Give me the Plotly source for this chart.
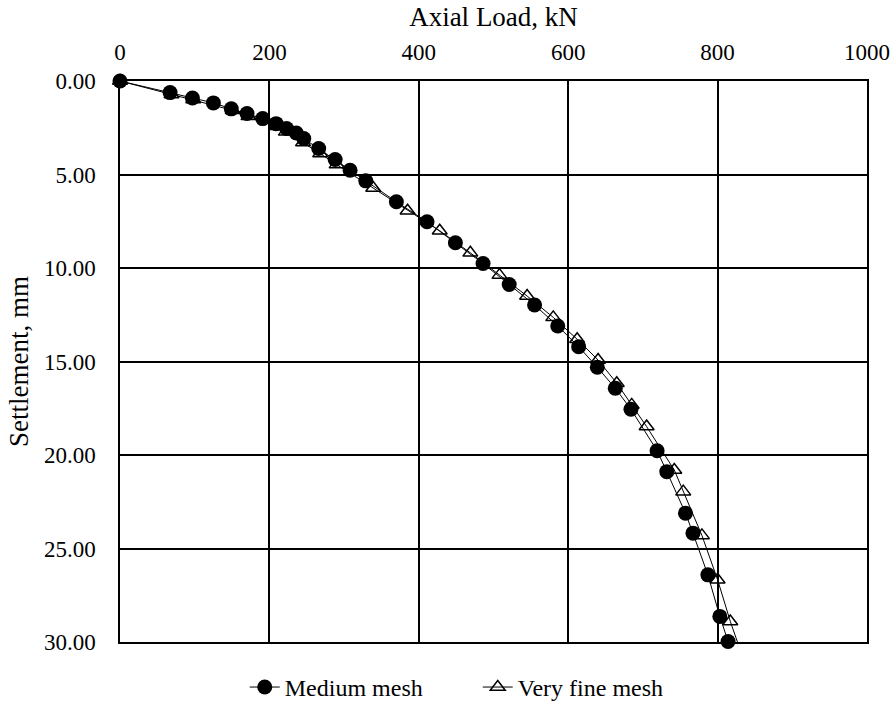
import plotly.graph_objects as go

medium_load = [0, 67, 97, 125, 149, 170, 191, 209, 223, 236, 246, 266, 288, 308, 329, 370, 411, 449, 486, 521, 555, 586, 614, 639, 663, 684, 719, 732, 757, 767, 787, 803, 814]
medium_settle = [0, 0.62, 0.91, 1.17, 1.49, 1.74, 2.01, 2.28, 2.54, 2.78, 3.08, 3.61, 4.20, 4.77, 5.34, 6.46, 7.53, 8.65, 9.76, 10.88, 11.98, 13.10, 14.21, 15.31, 16.43, 17.55, 19.77, 20.89, 23.11, 24.18, 26.41, 28.63, 29.97]

fine_load = [0, 69, 98, 151, 172, 210, 222, 245, 268, 290, 339, 385, 428, 469, 508, 545, 580, 612, 640, 665, 685, 705, 742, 754, 779, 800, 817, 827]
fine_settle = [0, 0.72, 0.99, 1.57, 1.89, 2.42, 2.72, 3.29, 3.88, 4.47, 5.72, 6.94, 8.01, 9.19, 10.38, 11.50, 12.64, 13.81, 14.92, 16.16, 17.32, 18.48, 20.80, 21.96, 24.30, 26.67, 28.90, 30.05]

x_ticks = [0, 200, 400, 600, 800, 1000]
y_ticks = [0, 5, 10, 15, 20, 25, 30]

FONT = "Liberation Serif"
TICK_SIZE = 23
TITLE_SIZE = 27
LEGEND_SIZE = 24

fig = go.Figure()
fig.add_trace(go.Scatter(
    x=fine_load, y=fine_settle, mode="lines+markers", name="Very fine mesh",
    line=dict(color="black", width=1), cliponaxis=False,
    marker=dict(symbol="triangle-up-open", size=13, color="black", line=dict(width=1.5, color="black")),
))
fig.add_trace(go.Scatter(
    x=medium_load, y=medium_settle, mode="lines+markers", name="Medium mesh",
    line=dict(color="black", width=1), cliponaxis=False,
    marker=dict(symbol="circle", size=15, color="black"),
))

fig.update_layout(
    width=896, height=708,
    margin=dict(l=120, r=29, t=81, b=66, autoexpand=False),
    paper_bgcolor="white", plot_bgcolor="white",
    font=dict(family=FONT, size=TICK_SIZE, color="black"),
    showlegend=True,
    legend=dict(orientation="h", x=0.167, xanchor="left", y=-0.081, yanchor="middle",
                traceorder="reversed", font=dict(family=FONT, size=LEGEND_SIZE, color="black"),
                entrywidth=188),
)
fig.update_xaxes(
    side="top", range=[0, 1000], tickvals=x_ticks, ticktext=[str(v) for v in x_ticks],
    showgrid=True, gridcolor="black", gridwidth=1.5,
    showline=True, linecolor="black", linewidth=1.5, mirror=True,
    zeroline=False, ticks="", ticklabelstandoff=10,
    tickfont=dict(family=FONT, size=TICK_SIZE, color="black"),
    title=dict(text="Axial Load, kN", font=dict(family=FONT, size=TITLE_SIZE, color="black"), standoff=6),
)
fig.update_yaxes(
    range=[30, 0], tickvals=y_ticks, ticktext=[f"{v:.2f}" for v in y_ticks],
    showgrid=True, gridcolor="black", gridwidth=1.5,
    showline=True, linecolor="black", linewidth=1.5, mirror=True,
    zeroline=False, ticks="", ticklabelstandoff=18,
    tickfont=dict(family=FONT, size=TICK_SIZE, color="black"),
    title=dict(text="Settlement, mm", font=dict(family=FONT, size=TITLE_SIZE, color="black"), standoff=7),
)
fig.write_html("out.html")
